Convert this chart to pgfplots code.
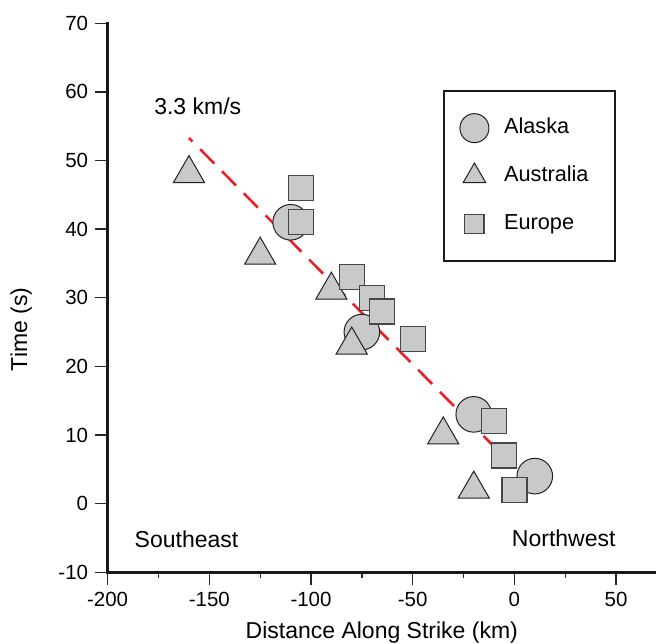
\documentclass[border=0pt]{standalone}
\usepackage{fontspec}
\setmainfont{Liberation Sans}
\usepackage{pgfplots}
\pgfplotsset{compat=1.18}
\definecolor{mkfill}{RGB}{200,201,203}
\definecolor{mkedge}{RGB}{35,31,32}
\definecolor{sqedge}{RGB}{70,70,70}
\definecolor{trend}{RGB}{237,32,40}
\begin{document}
\begin{tikzpicture}
\begin{axis}[
  x=2.034pt, y=6.86pt,
  xmin=-200, xmax=69.6, ymin=-10, ymax=70,
  axis x line=bottom, axis y line=left,
  separate axis lines,
  every outer x axis line/.append style={-, line width=2.8pt, black!90, line cap=rect},
  every outer y axis line/.append style={-, line width=2.8pt, black!90, line cap=rect},
  xtick={-200,-150,...,50}, ytick={-10,0,...,70},
  minor x tick num=1,
  tick align=outside,
  major tick length=13pt, minor tick length=6pt,
  major tick style={black!85, line width=1.3pt},
  minor tick style={black!85, line width=1.3pt},
  /pgf/number format/assume math mode=true,
  tick label style={font=\fontsize{20.5}{24}\selectfont},
  xticklabel style={yshift=-3pt},
  yticklabel style={xshift=-3pt},
  xlabel={Distance Along Strike (km)},
  ylabel={Time (s)},
  label style={font=\fontsize{23}{27}\selectfont},
  xlabel style={at={(axis description cs:0.5,-0.1205)}, anchor=base},
  ylabel style={at={(axis description cs:-0.1576,0.4425)}, anchor=center},
  clip=false,
  legend image code/.code={%
    \path[draw=none, fill=none] (-15pt,-23.95pt) rectangle (15pt,23.95pt);
    \draw[#1, overlay] plot coordinates {(0pt,0pt)};
  },
  legend style={at={(axis cs:-35.2,60.25)}, anchor=north west,
    draw=black!90, line width=2pt, fill=white,
    inner xsep=15.6pt, inner ysep=13pt, row sep=0pt,
    /tikz/every odd column/.append style={column sep=14.7pt},
    nodes={inner sep=0pt, text height=15.6pt, text depth=4.5pt, text width=95.1pt,
      font=\fontsize{21.7}{26}\selectfont},
    cells={anchor=west}},
]
% Alaska
\addplot[only marks, mark=*, mark size=17.8pt,
  mark options={fill=mkfill, draw=mkedge, line width=1pt}, forget plot]
  coordinates {(-110,41) (-75,25) (-20,13) (10,4)};
% Australia
\addplot[only marks, mark=triangle*, mark size=18pt,
  mark options={fill=mkfill, draw=mkedge, line width=1pt}, forget plot]
  coordinates {(-160,48.1) (-125,36.2) (-90,31.1) (-80,23.1) (-35,10) (-20,2.1)};
% Europe
\addplot[only marks, mark=square*, mark size=12.5pt,
  mark options={fill=mkfill, draw=sqedge, line width=1.2pt}, forget plot]
  coordinates {(-105,46) (-105,41) (-80,33) (-70,30) (-65,28) (-50,24) (-10,12) (-5,7) (0,2)};
% trend line 3.3 km/s
\addplot[trend, line width=2.6pt, dash pattern=on 20pt off 11pt, dash phase=15pt, forget plot]
  coordinates {(-160,53.3) (0,5.3)};

\addlegendimage{mark=*, mark size=14.5pt, mark options={fill=mkfill, draw=mkedge, line width=1pt}}
\addlegendentry{Alaska}
\addlegendimage{mark=triangle*, mark size=13pt, mark options={fill=mkfill, draw=mkedge, line width=1pt}}
\addlegendentry{Australia}
\addlegendimage{mark=square*, mark size=9.6pt, mark options={fill=mkfill, draw=sqedge, line width=1.2pt}}
\addlegendentry{Europe}

\node[anchor=base west, font=\fontsize{23}{27}\selectfont] at (axis cs:-178.8,56.7) {3.3 km/s};
\node[anchor=base west, font=\fontsize{23}{27}\selectfont] at (axis cs:-188.4,-6.47) {Southeast};
\node[anchor=base west, font=\fontsize{23}{27}\selectfont] at (axis cs:-2.95,-6.33) {Northwest};

\coordinate (bbll) at (axis cs:-252.9,-20.36);
\coordinate (bbur) at (axis cs:69.6,73.4);
\end{axis}
\pgfresetboundingbox
\useasboundingbox (bbll) rectangle (bbur);
\end{tikzpicture}
\end{document}
